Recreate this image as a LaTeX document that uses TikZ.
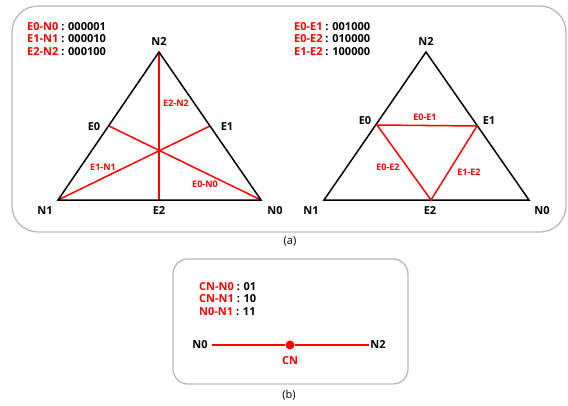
\documentclass[tikz,border=0pt]{standalone}
\usepackage{fontspec}
\setmainfont{Open Sans}
\begin{document}
\begin{tikzpicture}[x=1pt,y=-1pt,
  box/.style={draw=black!28, line width=1.3pt},
  tri/.style={draw=black, line width=1.5pt, line join=miter},
  redl/.style={draw=red, line width=1.5pt},
  lab/.style={font=\fontsize{11}{13}\selectfont\bfseries, inner sep=0pt},
  rlab/.style={font=\fontsize{9}{11}\selectfont\bfseries, text=red, inner sep=0pt},
  legend/.style={font=\fontsize{11}{12.8}\selectfont\bfseries, align=left, anchor=north west, inner sep=0pt},
  captext/.style={font=\fontsize{11}{13}\selectfont, inner sep=0pt}]
\useasboundingbox (0,0) rectangle (568,405);
% boxes
\draw[box, rounded corners=26pt] (12,6) rectangle (566,232);
\draw[box, rounded corners=15pt] (173,259) rectangle (408,384);
% captions
\node[captext] (capa) at (290,241) {(a)};
\node[captext] (capb) at (289,395) {(b)};
% ---------- left triangle ----------
\coordinate (lN2) at (159,52);
\coordinate (lN1) at (58,200);
\coordinate (lN0) at (261,200);
\coordinate (lE0) at (109,126);
\coordinate (lE1) at (210,126);
\coordinate (lE2) at (159,200);
\draw[redl] (lE2) -- (lN2);
\draw[redl] (lE1) -- (lN1);
\draw[redl] (lE0) -- (lN0);
\draw[tri] (lN2) -- (lN1) -- (lN0) -- cycle;
\node[lab] (tN2) at (159,42) {N2};
\node[lab] (tN1) at (45,211) {N1};
\node[lab] (tN0) at (275,211) {N0};
\node[lab] (tE2) at (159,211) {E2};
\node[lab] (tE0) at (94,127) {E0};
\node[lab] (tE1) at (227,127) {E1};
\node[rlab] (rE2N2) at (176,103) {E2-N2};
\node[rlab] (rE1N1) at (103,167) {E1-N1};
\node[rlab] (rE0N0) at (205,184) {E0-N0};
\node[legend] (legL) at (27,22) {\textcolor{red}{E0-N0} : 000001\\\textcolor{red}{E1-N1} : 000010\\\textcolor{red}{E2-N2} : 000100};
% ---------- right triangle ----------
\coordinate (rN2) at (426,52);
\coordinate (rN1) at (324,200);
\coordinate (rN0) at (529,200);
\coordinate (rE0) at (377,125);
\coordinate (rE1) at (477,126);
\coordinate (rE2) at (431,200);
\draw[tri] (rN2) -- (rN1) -- (rN0) -- cycle;
\draw[redl, line join=miter] (rE0) -- (rE1) -- (rE2) -- cycle;
\node[lab] (sN2) at (426,42) {N2};
\node[lab] (sN1) at (311,211) {N1};
\node[lab] (sN0) at (542,211) {N0};
\node[lab] (sE2) at (430,211) {E2};
\node[lab] (sE0) at (365,121) {E0};
\node[lab] (sE1) at (489,121) {E1};
\node[rlab] (rE0E1) at (425,117) {E0-E1};
\node[rlab] (rE0E2) at (388,167) {E0-E2};
\node[rlab] (rE1E2) at (469,172) {E1-E2};
\node[legend] (legR) at (294,22) {\textcolor{red}{E0-E1} : 001000\\\textcolor{red}{E0-E2} : 010000\\\textcolor{red}{E1-E2} : 100000};
% ---------- bottom ----------
\node[lab] (bN0) at (200,345) {N0};
\node[lab] (bN2) at (378,345) {N2};
\node[circle, fill=red, minimum size=9pt, inner sep=0pt] (CN) at (290,345) {};
\draw[redl] ([xshift=4pt]bN0.east) -- (CN);
\draw[redl] (CN) -- ([xshift=-1pt]bN2.west);
\node[lab, text=red] (tCN) at (290,361) {CN};
\node[legend] (legB) at (199,282) {\textcolor{red}{CN-N0} : 01\\\textcolor{red}{CN-N1} : 10\\\textcolor{red}{N0-N1} : 11};
\end{tikzpicture}
\end{document}
